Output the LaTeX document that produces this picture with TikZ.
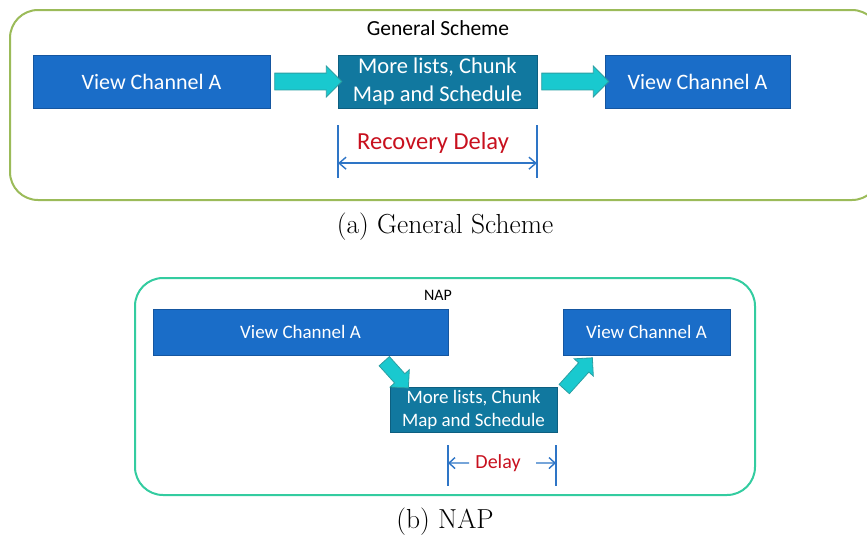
\documentclass[tikz,border=0pt]{standalone}
\usepackage{fontspec}
\setmainfont{Carlito}
\newfontfamily\capfont{Latin Modern Roman}
\usetikzlibrary{shapes.arrows,arrows.meta,calc}
\definecolor{vblue}{HTML}{1A6DC8}
\definecolor{vblueb}{HTML}{1556A0}
\definecolor{mteal}{HTML}{11789F}
\definecolor{mtealb}{HTML}{0D5F80}
\definecolor{acyan}{HTML}{19C9CF}
\definecolor{acyanb}{HTML}{2A9FA3}
\definecolor{dblue}{HTML}{2E75C6}
\definecolor{dred}{HTML}{C8101E}
\definecolor{gframe}{HTML}{9BBB59}
\definecolor{nframe}{HTML}{33CCA0}
\tikzset{
  x=1pt,y=-1pt,
  viewbox/.style={draw=vblueb,fill=vblue,text=white,line width=1pt,inner sep=0pt},
  midbox/.style={draw=mtealb,fill=mteal,text=white,line width=1pt,inner sep=0pt,align=center},
  fatarrow/.style={single arrow,draw=acyanb,fill=acyan,line width=0.8pt,inner xsep=0pt,inner ysep=8pt,
     single arrow head extend=7pt,single arrow head indent=0pt,minimum height=#1},
  dim/.style={draw=dblue,line width=1.6pt},
  frame/.style={rounded corners=28pt,line width=2pt,fill=white},
  captext/.style={font=\capfont\fontsize{27.5}{30}\selectfont}
}
\begin{document}
\begin{tikzpicture}
\useasboundingbox (0,0) rectangle (867,536);
% ---------- (a) ----------
\draw[frame,draw=gframe] (10,10) rectangle (880,200);
\node[font=\fontsize{21.5}{24}\selectfont] (ta) at (438,28) {General Scheme};
\node[viewbox,minimum width=237pt,minimum height=53pt,font=\fontsize{22}{26}\selectfont] (a1) at (151.5,81.5) {View Channel A};
\node[midbox,minimum width=199pt,minimum height=53pt,font=\fontsize{22.5}{28}\selectfont] (a2) at (437.5,81.5) {More lists, Chunk\\Map and Schedule};
\node[viewbox,minimum width=185pt,minimum height=53pt,font=\fontsize{22}{26}\selectfont] (a3) at (697.5,81.5) {View Channel A};
\node[fatarrow=67pt] (ar1) at ($(a1.east)!0.5!(a2.west)$) {};
\node[fatarrow=67pt] (ar2) at ($(a2.east)!0.5!(a3.west)$) {};
\coordinate (l1t) at (338,125); \coordinate (l1b) at (338,178);
\coordinate (l2t) at (537,125); \coordinate (l2b) at (537,178);
\draw[dim] (l1t) -- (l1b);
\draw[dim] (l2t) -- (l2b);
\draw[dblue,line width=1.4pt,{Straight Barb[length=7pt,width=12pt]}-{Straight Barb[length=7pt,width=12pt]}] ($(l1t)!0.72!(l1b)$) -- ($(l2t)!0.72!(l2b)$);
\node[text=dred,font=\fontsize{24.5}{28}\selectfont] (rd) at (433,143) {Recovery Delay};
\node[captext] (capa) at (445,227) {(a) General Scheme};
% ---------- (b) ----------
\draw[frame,draw=nframe] (135,278) rectangle (755,495);
\node[font=\fontsize{16}{19}\selectfont] (tb) at (438,295) {NAP};
\node[viewbox,minimum width=295pt,minimum height=46pt,font=\fontsize{19}{22}\selectfont] (b1) at (300.5,332) {View Channel A};
\node[viewbox,minimum width=167pt,minimum height=46pt,font=\fontsize{19}{22}\selectfont] (b3) at (646.5,332) {View Channel A};
\node[midbox,minimum width=167pt,minimum height=45pt,font=\fontsize{19}{23}\selectfont] (b2) at (473.5,409.5) {More lists, Chunk\\Map and Schedule};
\node[fatarrow=36pt,inner ysep=6.5pt,single arrow head extend=6pt,rotate=-48] (br1) at (394,372) {};
\node[fatarrow=42pt,inner ysep=6.5pt,single arrow head extend=6pt,rotate=48] (br2) at (576,376) {};
\coordinate (m1t) at (448,445); \coordinate (m1b) at (448,486);
\coordinate (m2t) at (556,445); \coordinate (m2b) at (556,486);
\draw[dim] (m1t) -- (m1b);
\draw[dim] (m2t) -- (m2b);
\coordinate (dl) at (469,463); \coordinate (dr) at (536,463);
\draw[dblue,line width=1.4pt,-{Straight Barb[length=6pt,width=11pt]}] (dl) -- ($(m1t)!0.44!(m1b)$);
\draw[dblue,line width=1.4pt,-{Straight Barb[length=6pt,width=11pt]}] (dr) -- ($(m2t)!0.44!(m2b)$);
\node[text=dred,font=\fontsize{20}{24}\selectfont] (dd) at (498,463) {Delay};
\node[captext] (capb) at (445,522) {(b) NAP};
\end{tikzpicture}
\end{document}
